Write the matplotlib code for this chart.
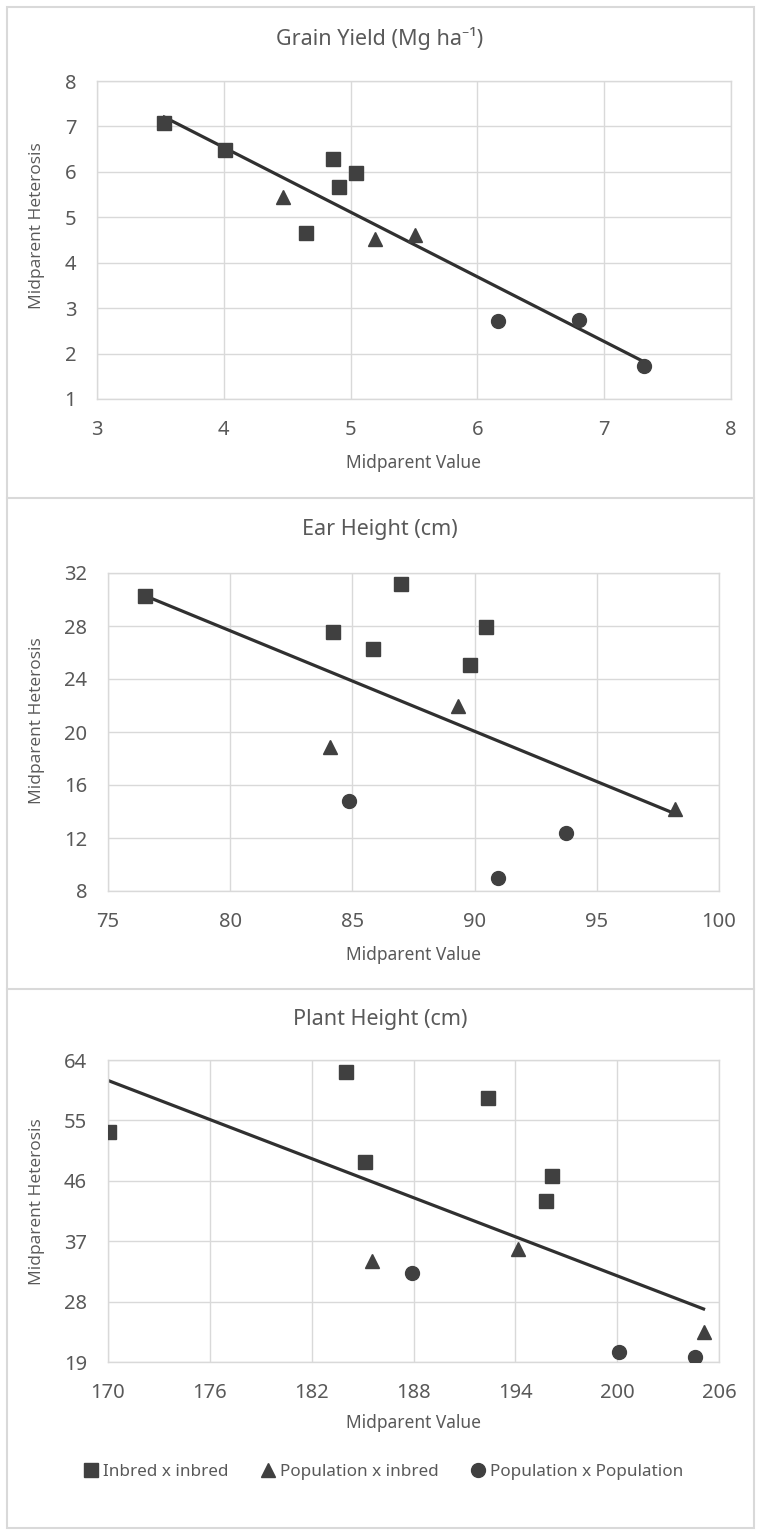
import numpy as np
import matplotlib
matplotlib.use("Agg")
from matplotlib import pyplot as plt
from matplotlib.lines import Line2D

plt.rcParams['font.family'] = ['Noto Sans', 'DejaVu Sans']

# Grain yield
gy_inbred_x = [3.53, 4.01, 4.86, 5.04, 4.91, 4.65]
gy_inbred_y = [7.07, 6.48, 6.28, 5.97, 5.67, 4.65]
gy_popinb_x = [4.47, 5.19, 5.51]
gy_popinb_y = [5.44, 4.53, 4.60]
gy_poppop_x = [6.16, 6.80, 7.31]
gy_poppop_y = [2.72, 2.75, 1.73]

# Ear height
eh_inbred_x = [76.5, 87.0, 84.2, 85.85, 90.46, 89.82]
eh_inbred_y = [30.3, 31.17, 27.54, 26.3, 27.94, 25.07]
eh_popinb_x = [89.31, 84.08, 98.2]
eh_popinb_y = [22.0, 18.9, 14.2]
eh_poppop_x = [84.88, 93.73, 90.94]
eh_poppop_y = [14.81, 12.4, 9.0]

# Plant height
ph_inbred_x = [184.0, 192.4, 170.03, 185.17, 196.18, 195.8]
ph_inbred_y = [62.26, 58.33, 53.21, 48.83, 46.74, 43.02]
ph_popinb_x = [194.14, 185.57, 205.09]
ph_popinb_y = [35.8, 34.1, 23.4]
ph_poppop_x = [187.9, 200.1, 204.6]
ph_poppop_y = [32.2, 20.5, 19.8]

W, H = 760, 1537
fig = plt.figure(figsize=(W / 100, H / 100), dpi=100)

grid_c = '#d9d9d9'
txt_c = '#595959'
mk_c = '#404040'


def box(l, t, r, b):
    return [l / W, 1 - b / H, (r - l) / W, (b - t) / H]


def panel(pos, data, xlim, xticks, ylim, yticks, title, ty, xly, yly):
    ax = fig.add_axes(box(*pos))
    (ix, iy), (px, py), (cx, cy) = data
    ax.plot(ix, iy, 's', color=mk_c, ms=10, ls='none', zorder=3)
    ax.plot(px, py, '^', color=mk_c, ms=10, ls='none', zorder=3)
    ax.plot(cx, cy, 'o', color=mk_c, ms=10, ls='none', zorder=3)
    allx = np.array(ix + px + cx)
    ally = np.array(iy + py + cy)
    k, b = np.polyfit(allx, ally, 1)
    xs = np.array([allx.min(), allx.max()])
    ax.plot(xs, k * xs + b, color='#303030', lw=2.3, zorder=2)
    ax.set_xlim(*xlim)
    ax.set_ylim(*ylim)
    ax.set_xticks(xticks)
    ax.set_yticks(yticks)
    ax.grid(True, color=grid_c, lw=1)
    for s in ax.spines.values():
        s.set_color(grid_c)
        s.set_linewidth(1)
    ax.tick_params(length=0, labelsize=14.5, labelcolor=txt_c, pad=15)
    fig.text(0.5, 1 - ty / H, title, ha='center', va='center', fontsize=15.5, color=txt_c)
    cxa = (pos[0] + pos[2]) / 2
    fig.text(cxa / W, 1 - xly / H, 'Midparent Value', ha='center', va='center', fontsize=12.5, color=txt_c)
    fig.text(37.5 / W, 1 - yly / H, 'Midparent Heterosis', ha='center', va='center', rotation=90,
             fontsize=12.5, color=txt_c, family='Open Sans')
    return ax


panel((97, 81, 731, 399),
      ((gy_inbred_x, gy_inbred_y), (gy_popinb_x, gy_popinb_y), (gy_poppop_x, gy_poppop_y)),
      (3, 8), [3, 4, 5, 6, 7, 8], (1, 8), [1, 2, 3, 4, 5, 6, 7, 8],
      'Grain Yield (Mg ha\u207b\u00b9)', 38, 463, 226)

panel((108, 573, 719, 891),
      ((eh_inbred_x, eh_inbred_y), (eh_popinb_x, eh_popinb_y), (eh_poppop_x, eh_poppop_y)),
      (75, 100), [75, 80, 85, 90, 95, 100], (8, 32), [8, 12, 16, 20, 24, 28, 32],
      'Ear Height (cm)', 530, 955, 721)

panel((108, 1060, 719, 1362),
      ((ph_inbred_x, ph_inbred_y), (ph_popinb_x, ph_popinb_y), (ph_poppop_x, ph_poppop_y)),
      (170, 206), [170, 176, 182, 188, 194, 200, 206], (19, 64), [19, 28, 37, 46, 55, 64],
      'Plant Height (cm)', 1020, 1423, 1202)

handles = [Line2D([], [], marker='s', color=mk_c, ls='none', ms=10),
           Line2D([], [], marker='^', color=mk_c, ls='none', ms=10),
           Line2D([], [], marker='o', color=mk_c, ls='none', ms=10)]
labels = ['Inbred x inbred', 'Population x inbred', 'Population x Population']
leg = fig.legend(handles, labels, loc='center', bbox_to_anchor=(384 / W, 1 - 1472 / H), ncol=3,
                 frameon=False, fontsize=12.3, handlelength=0.8, handletextpad=0.3,
                 columnspacing=1.9)
for t in leg.get_texts():
    t.set_color(txt_c)

# panel frames
frame_kw = dict(color=grid_c, lw=1.5, transform=fig.transFigure)
fig.add_artist(plt.Rectangle((7 / W, 1 - 1528 / H), 747 / W, 1521 / H, fill=False,
                             ec=grid_c, lw=1.5, transform=fig.transFigure))
for yy in (498, 989):
    fig.add_artist(Line2D([7 / W, 754 / W], [1 - yy / H, 1 - yy / H], **frame_kw))

fig.savefig('out.png', dpi=100, facecolor='white')
